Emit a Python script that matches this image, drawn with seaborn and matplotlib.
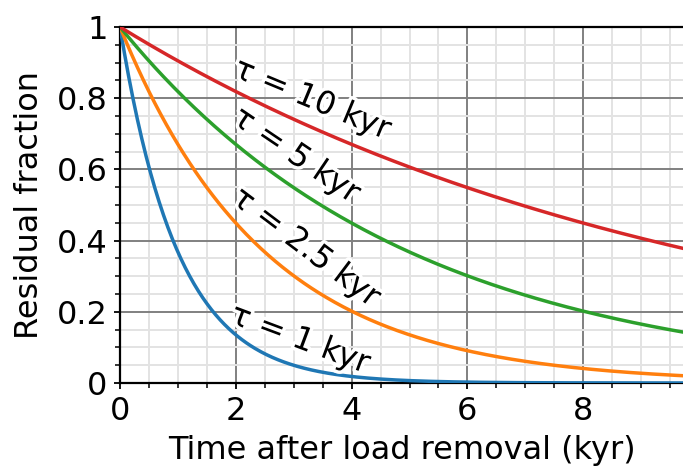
import numpy as np
import pandas as pd
import matplotlib
matplotlib.use("Agg")
import matplotlib.pyplot as plt
import matplotlib.patheffects as pe
from matplotlib.ticker import MultipleLocator, FuncFormatter
import seaborn as sns

# Relaxation time constants (kyr) and their series colours
taus = [1, 2.5, 5, 10]
colors = ["#1f77b4", "#ff7f0e", "#2ca02c", "#d62728"]
labels = ["τ = 1 kyr", "τ = 2.5 kyr", "τ = 5 kyr", "τ = 10 kyr"]

# inline label placement: centre (time, fraction) and text angle in degrees
label_x = [3.11, 3.21, 3.04, 3.32]
label_y = [0.121, 0.379, 0.638, 0.795]
label_rot = [-20.5, -37, -34, -22.5]

t = np.linspace(0, 10, 400)
frames = []
for tau, lab in zip(taus, labels):
    frames.append(pd.DataFrame({"t": t, "frac": np.exp(-t / tau), "series": lab}))
df = pd.concat(frames, ignore_index=True)

sns.set_theme(style="white")
plt.rcParams["font.family"] = ["DejaVu Sans"]
plt.rcParams["text.color"] = "black"
plt.rcParams["axes.labelcolor"] = "black"

W, H, DPI = 683, 468, 100
FS = 23
fig = plt.figure(figsize=(W / DPI, H / DPI), dpi=DPI)
ax = fig.add_axes([120 / W, (H - 383) / H, (W - 120) / W, (383 - 27) / H])

sns.lineplot(data=df, x="t", y="frac", hue="series", hue_order=labels,
             palette=colors, linewidth=2.5, ax=ax, legend=False, zorder=3)

xmax = (W - 120) / 57.9
ax.set_xlim(0, xmax)
ax.set_ylim(0, 1)

ax.xaxis.set_major_locator(MultipleLocator(2))
ax.xaxis.set_minor_locator(MultipleLocator(0.5))
ax.yaxis.set_major_locator(MultipleLocator(0.2))
ax.yaxis.set_minor_locator(MultipleLocator(0.05))
fmt = FuncFormatter(lambda v, p: f"{v:g}")
ax.xaxis.set_major_formatter(fmt)
ax.yaxis.set_major_formatter(fmt)

ax.grid(which="major", color="#808080", linewidth=1.4, zorder=1)
ax.grid(which="minor", color="#e3e3e3", linewidth=1.4, zorder=0)
ax.set_axisbelow(True)

ax.tick_params(which="both", direction="out", colors="black", labelsize=FS,
               bottom=True, left=True, top=False, right=False)
ax.tick_params(which="major", length=4, width=1.3, pad=5)
ax.tick_params(which="minor", length=3.5, width=1.1)

for side in ["left", "bottom", "top"]:
    ax.spines[side].set_visible(True)
    ax.spines[side].set_color("black")
    ax.spines[side].set_linewidth(1.6)
ax.spines["right"].set_visible(False)

ax.set_xlabel("Time after load removal (kyr)", fontsize=FS, labelpad=6)
ax.set_ylabel("Residual fraction", fontsize=FS, labelpad=8)

# Inline curve labels with a white halo
for lab, lx, ly, rot in zip(labels, label_x, label_y, label_rot):
    ax.text(lx, ly, lab, ha="center", va="center", rotation=rot,
            rotation_mode="anchor", fontsize=FS, color="black", zorder=5,
            path_effects=[pe.withStroke(linewidth=5, foreground="white")])

fig.savefig("out.png", dpi=DPI)
